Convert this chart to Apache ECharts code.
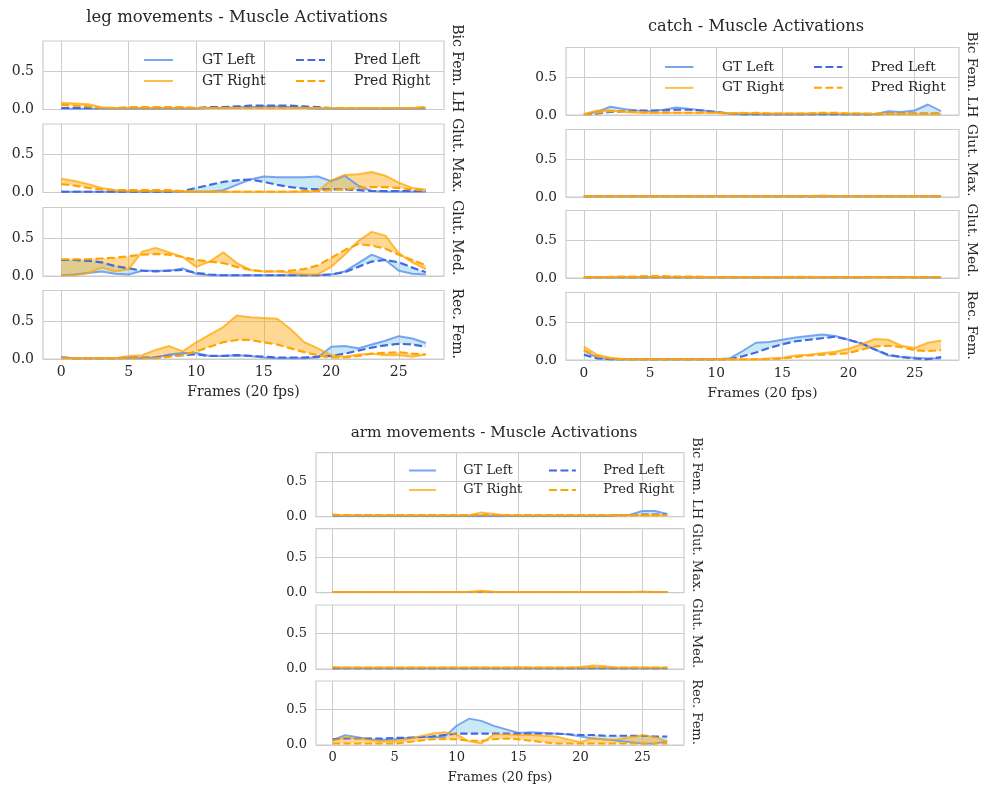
<!DOCTYPE html>
<html>
<head>
<meta charset="utf-8">
<script src="https://cdn.jsdelivr.net/npm/echarts@6/dist/echarts.min.js"></script>
<style>
  html, body { margin: 0; padding: 0; background: #ffffff; }
  #chart { width: 984px; height: 789px; }
</style>
</head>
<body>
<div id="chart"></div>
<script>
// ---- shared axes ----
const frames = [0,1,2,3,4,5,6,7,8,9,10,11,12,13,14,15,16,17,18,19,20,21,22,23,24,25,26,27];
const xTicks = [0, 5, 10, 15, 20, 25];
const yTicks = [0, 0.5];
const muscles = ['Bic Fem. LH', 'Glut. Max.', 'Glut. Med.', 'Rec. Fem.'];
const panelTitles = ['leg movements - Muscle Activations', 'catch - Muscle Activations', 'arm movements - Muscle Activations'];
const xName = 'Frames (20 fps)';

// ---- leg movements ----
const legBicGtL   = [0.01,0.01,0.01,0.01,0.01,0.01,0.01,0.01,0.01,0.01,0.01,0.02,0.02,0.03,0.03,0.04,0.04,0.03,0.02,0.01,0.01,0.01,0.01,0.01,0.01,0.01,0.01,0.01];
const legBicPredL = [0.02,0.02,0.02,0.02,0.02,0.02,0.02,0.02,0.02,0.02,0.02,0.03,0.03,0.04,0.05,0.05,0.05,0.05,0.04,0.03,0.02,0.02,0.02,0.02,0.02,0.02,0.02,0.02];
const legBicGtR   = [0.09,0.08,0.07,0.03,0.02,0.02,0.02,0.02,0.02,0.02,0.02,0.02,0.02,0.02,0.02,0.02,0.02,0.02,0.02,0.02,0.02,0.02,0.02,0.02,0.02,0.02,0.02,0.03];
const legBicPredR = [0.06,0.05,0.04,0.02,0.02,0.03,0.03,0.03,0.03,0.03,0.02,0.02,0.02,0.02,0.02,0.02,0.02,0.02,0.02,0.02,0.02,0.02,0.02,0.02,0.02,0.02,0.02,0.03];

const legMaxGtL   = [0.01,0.01,0.01,0.01,0.01,0.01,0.01,0.01,0.01,0.01,0.01,0.01,0.03,0.10,0.17,0.21,0.20,0.20,0.20,0.21,0.15,0.22,0.09,0.02,0.01,0.01,0.01,0.01];
const legMaxPredL = [0.01,0.01,0.01,0.01,0.01,0.01,0.01,0.01,0.01,0.02,0.06,0.10,0.14,0.16,0.17,0.14,0.10,0.07,0.05,0.04,0.04,0.04,0.03,0.02,0.02,0.02,0.02,0.02];
const legMaxGtR   = [0.18,0.15,0.11,0.06,0.03,0.02,0.02,0.02,0.02,0.01,0.01,0.01,0.01,0.01,0.01,0.01,0.01,0.01,0.01,0.02,0.16,0.23,0.24,0.27,0.22,0.13,0.06,0.04];
const legMaxPredR = [0.11,0.09,0.06,0.04,0.03,0.03,0.03,0.03,0.03,0.02,0.01,0.01,0.01,0.01,0.01,0.01,0.01,0.01,0.02,0.02,0.03,0.04,0.06,0.07,0.07,0.06,0.04,0.03];

const legMedGtL   = [0.01,0.02,0.04,0.06,0.03,0.02,0.07,0.07,0.07,0.10,0.03,0.01,0.01,0.01,0.01,0.01,0.01,0.01,0.01,0.01,0.02,0.06,0.17,0.28,0.21,0.07,0.03,0.02];
const legMedPredL = [0.21,0.21,0.20,0.18,0.13,0.10,0.07,0.06,0.07,0.08,0.04,0.02,0.01,0.01,0.01,0.01,0.01,0.01,0.01,0.01,0.02,0.05,0.12,0.19,0.21,0.18,0.11,0.05];
const legMedGtR   = [0.01,0.01,0.04,0.11,0.06,0.09,0.32,0.37,0.31,0.25,0.12,0.19,0.31,0.17,0.08,0.06,0.06,0.04,0.02,0.02,0.12,0.28,0.46,0.58,0.53,0.30,0.18,0.09];
const legMedPredR = [0.22,0.22,0.22,0.23,0.24,0.26,0.28,0.29,0.28,0.25,0.21,0.19,0.17,0.12,0.08,0.06,0.06,0.07,0.09,0.14,0.24,0.34,0.42,0.40,0.36,0.28,0.21,0.14];

const legRecGtL   = [0.02,0.01,0.01,0.01,0.01,0.01,0.01,0.02,0.06,0.08,0.08,0.04,0.04,0.05,0.04,0.02,0.01,0.01,0.01,0.02,0.16,0.17,0.14,0.19,0.24,0.30,0.27,0.21];
const legRecPredL = [0.02,0.01,0.01,0.01,0.01,0.02,0.02,0.02,0.04,0.05,0.06,0.04,0.04,0.05,0.04,0.03,0.02,0.02,0.02,0.03,0.04,0.07,0.11,0.15,0.18,0.20,0.19,0.16];
const legRecGtR   = [0.01,0.01,0.01,0.01,0.01,0.04,0.05,0.12,0.17,0.10,0.22,0.32,0.42,0.57,0.55,0.54,0.53,0.39,0.22,0.14,0.05,0.03,0.06,0.07,0.05,0.05,0.03,0.06];
const legRecPredR = [0.01,0.01,0.01,0.01,0.01,0.01,0.01,0.01,0.03,0.05,0.10,0.16,0.22,0.25,0.25,0.22,0.19,0.14,0.09,0.05,0.02,0.02,0.04,0.07,0.08,0.09,0.07,0.06];

// ---- catch ----
const catchBicGtL   = [0.01,0.04,0.11,0.08,0.06,0.05,0.07,0.10,0.08,0.06,0.04,0.02,0.01,0.01,0.01,0.01,0.01,0.01,0.01,0.01,0.01,0.01,0.01,0.05,0.04,0.06,0.14,0.05];
const catchBicPredL = [0.01,0.02,0.04,0.05,0.06,0.06,0.06,0.07,0.07,0.06,0.04,0.02,0.01,0.01,0.01,0.01,0.01,0.01,0.01,0.01,0.01,0.01,0.01,0.02,0.02,0.02,0.02,0.02];
const catchBicGtR   = [0.01,0.06,0.06,0.04,0.03,0.03,0.03,0.03,0.03,0.03,0.03,0.02,0.03,0.02,0.02,0.02,0.02,0.02,0.02,0.02,0.02,0.02,0.01,0.01,0.01,0.01,0.01,0.01];
const catchBicPredR = [0.01,0.03,0.05,0.05,0.04,0.03,0.03,0.03,0.03,0.03,0.03,0.02,0.02,0.03,0.02,0.02,0.02,0.02,0.03,0.03,0.02,0.02,0.02,0.02,0.02,0.02,0.02,0.02];

const catchMaxGtL   = [0.01,0.01,0.01,0.01,0.01,0.01,0.01,0.01,0.01,0.01,0.01,0.01,0.01,0.01,0.01,0.01,0.01,0.01,0.01,0.01,0.01,0.01,0.01,0.01,0.01,0.01,0.01,0.01];
const catchMaxPredL = [0.01,0.01,0.01,0.01,0.01,0.01,0.01,0.01,0.01,0.01,0.01,0.01,0.01,0.01,0.01,0.01,0.01,0.01,0.01,0.01,0.01,0.01,0.01,0.01,0.01,0.01,0.01,0.01];
const catchMaxGtR   = [0.01,0.01,0.01,0.01,0.01,0.01,0.01,0.01,0.01,0.01,0.01,0.01,0.01,0.01,0.01,0.01,0.01,0.015,0.02,0.015,0.01,0.01,0.01,0.01,0.01,0.01,0.01,0.01];
const catchMaxPredR = [0.01,0.01,0.01,0.01,0.01,0.01,0.01,0.01,0.01,0.01,0.01,0.01,0.01,0.01,0.01,0.01,0.01,0.01,0.01,0.01,0.01,0.01,0.01,0.01,0.01,0.01,0.01,0.01];

const catchMedGtL   = [0.01,0.01,0.01,0.01,0.01,0.01,0.01,0.01,0.01,0.01,0.01,0.01,0.01,0.01,0.01,0.01,0.01,0.01,0.01,0.01,0.01,0.01,0.015,0.015,0.015,0.01,0.01,0.01];
const catchMedPredL = [0.01,0.01,0.01,0.01,0.01,0.01,0.01,0.01,0.01,0.01,0.01,0.01,0.01,0.01,0.01,0.01,0.01,0.01,0.01,0.01,0.01,0.01,0.01,0.01,0.01,0.01,0.01,0.01];
const catchMedGtR   = [0.01,0.01,0.01,0.01,0.01,0.01,0.01,0.01,0.01,0.01,0.01,0.01,0.01,0.01,0.01,0.01,0.01,0.01,0.01,0.01,0.01,0.01,0.01,0.01,0.01,0.01,0.01,0.01];
const catchMedPredR = [0.01,0.01,0.015,0.02,0.02,0.025,0.025,0.02,0.02,0.015,0.01,0.01,0.01,0.01,0.01,0.01,0.015,0.015,0.01,0.01,0.01,0.01,0.01,0.01,0.01,0.01,0.01,0.01];

const catchRecGtL   = [0.13,0.03,0.01,0.01,0.01,0.01,0.01,0.01,0.01,0.01,0.01,0.02,0.12,0.23,0.24,0.27,0.30,0.32,0.34,0.32,0.27,0.22,0.14,0.06,0.04,0.03,0.02,0.02];
const catchRecPredL = [0.07,0.02,0.01,0.01,0.01,0.01,0.01,0.01,0.01,0.01,0.01,0.01,0.05,0.10,0.16,0.21,0.25,0.27,0.29,0.31,0.27,0.22,0.14,0.07,0.04,0.02,0.01,0.04];
const catchRecGtR   = [0.18,0.07,0.03,0.01,0.01,0.01,0.01,0.01,0.01,0.01,0.01,0.01,0.01,0.01,0.02,0.03,0.06,0.07,0.09,0.11,0.15,0.21,0.28,0.27,0.19,0.16,0.23,0.26];
const catchRecPredR = [0.13,0.05,0.02,0.01,0.01,0.01,0.01,0.01,0.01,0.01,0.01,0.01,0.01,0.01,0.01,0.02,0.04,0.06,0.07,0.08,0.09,0.14,0.18,0.19,0.17,0.13,0.12,0.13];

// ---- arm movements ----
const armBicGtL   = [0.01,0.01,0.01,0.01,0.01,0.01,0.01,0.01,0.01,0.01,0.01,0.01,0.01,0.01,0.01,0.01,0.01,0.01,0.01,0.01,0.01,0.01,0.01,0.02,0.03,0.08,0.08,0.04];
const armBicPredL = [0.02,0.02,0.02,0.02,0.02,0.02,0.02,0.02,0.02,0.02,0.02,0.02,0.02,0.02,0.02,0.02,0.02,0.02,0.02,0.02,0.02,0.02,0.02,0.02,0.02,0.03,0.03,0.03];
const armBicGtR   = [0.02,0.02,0.02,0.02,0.02,0.02,0.02,0.02,0.02,0.02,0.02,0.02,0.06,0.04,0.02,0.02,0.02,0.02,0.02,0.02,0.02,0.02,0.02,0.02,0.02,0.02,0.02,0.02];
const armBicPredR = [0.03,0.02,0.02,0.02,0.02,0.02,0.02,0.02,0.02,0.02,0.02,0.02,0.02,0.02,0.02,0.02,0.02,0.02,0.02,0.02,0.02,0.02,0.02,0.02,0.02,0.02,0.02,0.02];

const armMaxGtL   = [0.01,0.01,0.01,0.01,0.01,0.01,0.01,0.01,0.01,0.01,0.01,0.01,0.01,0.01,0.01,0.01,0.01,0.01,0.01,0.01,0.01,0.01,0.01,0.01,0.01,0.015,0.01,0.01];
const armMaxPredL = [0.01,0.01,0.01,0.01,0.01,0.01,0.01,0.01,0.01,0.01,0.01,0.01,0.01,0.01,0.01,0.01,0.01,0.01,0.01,0.01,0.01,0.01,0.01,0.01,0.01,0.01,0.01,0.01];
const armMaxGtR   = [0.01,0.01,0.01,0.01,0.01,0.01,0.01,0.01,0.01,0.01,0.01,0.015,0.03,0.015,0.01,0.01,0.01,0.01,0.01,0.01,0.01,0.01,0.01,0.01,0.01,0.01,0.01,0.01];
const armMaxPredR = [0.01,0.01,0.01,0.01,0.01,0.01,0.01,0.01,0.01,0.01,0.01,0.01,0.01,0.01,0.01,0.01,0.01,0.01,0.01,0.01,0.01,0.01,0.01,0.01,0.01,0.01,0.01,0.01];

const armMedGtL   = [0.01,0.01,0.01,0.01,0.01,0.01,0.01,0.01,0.01,0.01,0.01,0.01,0.01,0.01,0.01,0.01,0.01,0.01,0.01,0.01,0.01,0.01,0.01,0.01,0.01,0.01,0.01,0.01];
const armMedPredL = [0.01,0.01,0.01,0.01,0.01,0.01,0.01,0.01,0.01,0.01,0.01,0.01,0.01,0.01,0.01,0.01,0.01,0.01,0.01,0.01,0.01,0.01,0.01,0.01,0.01,0.01,0.01,0.01];
const armMedGtR   = [0.03,0.02,0.02,0.02,0.02,0.02,0.02,0.02,0.02,0.02,0.02,0.02,0.02,0.02,0.02,0.025,0.02,0.02,0.02,0.02,0.03,0.05,0.04,0.02,0.02,0.02,0.02,0.02];
const armMedPredR = [0.02,0.02,0.02,0.02,0.02,0.02,0.02,0.02,0.02,0.02,0.02,0.02,0.02,0.02,0.02,0.02,0.02,0.02,0.02,0.02,0.02,0.02,0.02,0.02,0.02,0.02,0.02,0.02];

const armRecGtL   = [0.07,0.14,0.11,0.08,0.07,0.08,0.10,0.11,0.11,0.11,0.27,0.37,0.34,0.27,0.22,0.17,0.18,0.17,0.16,0.15,0.12,0.09,0.08,0.06,0.04,0.02,0.02,0.05];
const armRecPredL = [0.08,0.09,0.09,0.09,0.09,0.10,0.10,0.11,0.12,0.14,0.16,0.16,0.16,0.16,0.16,0.16,0.16,0.16,0.16,0.15,0.14,0.14,0.13,0.13,0.13,0.13,0.12,0.12];
const armRecGtR   = [0.06,0.11,0.09,0.07,0.05,0.06,0.08,0.12,0.16,0.18,0.15,0.05,0.02,0.15,0.15,0.14,0.14,0.13,0.12,0.08,0.04,0.10,0.07,0.08,0.11,0.14,0.11,0.05];
const armRecPredR = [0.02,0.02,0.02,0.02,0.02,0.02,0.04,0.06,0.08,0.08,0.08,0.06,0.06,0.08,0.09,0.08,0.06,0.04,0.02,0.02,0.02,0.02,0.02,0.02,0.02,0.02,0.02,0.02];

// ---- per-panel series grouping: [gtLeft, predLeft, gtRight, predRight] per muscle ----
const panelData = [
  [[legBicGtL, legBicPredL, legBicGtR, legBicPredR],
   [legMaxGtL, legMaxPredL, legMaxGtR, legMaxPredR],
   [legMedGtL, legMedPredL, legMedGtR, legMedPredR],
   [legRecGtL, legRecPredL, legRecGtR, legRecPredR]],
  [[catchBicGtL, catchBicPredL, catchBicGtR, catchBicPredR],
   [catchMaxGtL, catchMaxPredL, catchMaxGtR, catchMaxPredR],
   [catchMedGtL, catchMedPredL, catchMedGtR, catchMedPredR],
   [catchRecGtL, catchRecPredL, catchRecGtR, catchRecPredR]],
  [[armBicGtL, armBicPredL, armBicGtR, armBicPredR],
   [armMaxGtL, armMaxPredL, armMaxGtR, armMaxPredR],
   [armMedGtL, armMedPredL, armMedGtR, armMedPredR],
   [armRecGtL, armRecPredL, armRecGtR, armRecPredR]]
];

// ---- layout of the three figure blocks ----
const layout = [
  { left: 43,  width: 401, bottoms: [109.5, 192.5, 276, 359],   height: 68.5, s: 1.0,
    titleX: 237, titleY: 18,  sideX: 457, legX: [143, 295], legY: 53 },
  { left: 566, width: 393, bottoms: [115, 197, 278, 360],       height: 67.5, s: 0.98,
    titleX: 756, titleY: 27,  sideX: 972, legX: [664, 813], legY: 60 },
  { left: 316, width: 368, bottoms: [516.7, 592.7, 669, 745],   height: 64,   s: 0.93,
    titleX: 494, titleY: 433, sideX: 696, legX: [408, 548], legY: 464 }
];
// vertical shift of each side label relative to its subplot centre
const sideShift = [-7, -3, -4, -1];

const FONT = '"DejaVu Serif", "Liberation Serif", serif';
const INK = '#262626';
const GRIDC = '#cccccc';
const C = {
  gtL: 'rgba(100,149,237,0.85)',
  predL: '#4169E1',
  bandL: 'rgba(135,206,235,0.45)',
  gtR: 'rgba(255,165,0,0.72)',
  predR: '#FFA500',
  bandR: 'rgba(255,165,0,0.42)'
};

function lineSeries(name, g, values, color, dashed, w) {
  return {
    type: 'line', name: name, xAxisIndex: g, yAxisIndex: g,
    data: frames.map((f, i) => [f, values[i]]),
    symbol: 'none', showSymbol: false, silent: true,
    lineStyle: { color: color, width: w, type: dashed ? [3.6 * w, 1.6 * w] : 'solid', cap: 'butt' },
    itemStyle: { color: color },
    animation: false
  };
}

// filled region between ground truth and prediction, one polygon per pair
function bandSeries(name, g, gt, pred, color) {
  return {
    type: 'custom', name: name, xAxisIndex: g, yAxisIndex: g, silent: true,
    data: frames.map((f, i) => [f, gt[i], pred[i]]),
    encode: { x: 0, y: [1, 2] },
    animation: false,
    renderItem: function (params, api) {
      if (params.dataIndex !== 0) return null;
      const upper = frames.map((f, i) => api.coord([f, gt[i]]));
      const lower = frames.map((f, i) => api.coord([f, pred[i]])).reverse();
      return { type: 'polygon', shape: { points: upper.concat(lower) }, style: { fill: color, stroke: null } };
    }
  };
}

const grids = [], xAxes = [], yAxes = [], series = [], legends = [], graphics = [];

layout.forEach((L, p) => {
  const fs = Math.round(14 * L.s * 10) / 10;
  const lw = 2 * L.s;
  panelData[p].forEach((muscle, m) => {
    const g = grids.length;
    const isLast = m === muscles.length - 1;
    grids.push({
      left: L.left, top: L.bottoms[m] - L.height, width: L.width, height: L.height,
      show: true, borderColor: GRIDC, borderWidth: 1.2, backgroundColor: '#ffffff'
    });
    xAxes.push({
      type: 'value', gridIndex: g, min: -1.35, max: 28.35,
      axisLine: { show: false },
      axisTick: { show: false, customValues: xTicks },
      axisLabel: { show: isLast, customValues: xTicks, margin: 6, color: INK, fontFamily: FONT, fontSize: fs },
      splitLine: { show: true, lineStyle: { color: GRIDC, width: 1 } },
      name: isLast ? xName : '', nameLocation: 'middle', nameGap: 26,
      nameTextStyle: { color: INK, fontFamily: FONT, fontSize: fs }
    });
    yAxes.push({
      type: 'value', gridIndex: g, min: 0, max: 0.9,
      axisLine: { show: false },
      axisTick: { show: false, customValues: yTicks },
      axisLabel: { customValues: yTicks, margin: 9, color: INK, fontFamily: FONT, fontSize: fs,
                   formatter: v => v.toFixed(1) },
      splitLine: { show: true, lineStyle: { color: GRIDC, width: 1 } }
    });
    const [gtL, predL, gtR, predR] = muscle;
    series.push(lineSeries('GT Left', g, gtL, C.gtL, false, lw));
    series.push(lineSeries('Pred Left', g, predL, C.predL, true, lw * 1.1));
    series.push(bandSeries('Left difference', g, gtL, predL, C.bandL));
    series.push(lineSeries('GT Right', g, gtR, C.gtR, false, lw));
    series.push(lineSeries('Pred Right', g, predR, C.predR, true, lw * 1.1));
    series.push(bandSeries('Right difference', g, gtR, predR, C.bandR));

    // muscle name on the right side of each subplot, reading downwards
    graphics.push({
      type: 'text', x: L.sideX, y: L.bottoms[m] - L.height / 2 + sideShift[m] * L.s,
      rotation: -Math.PI / 2, silent: true,
      style: { text: muscles[m], fill: INK, font: fs + 'px ' + FONT,
               textAlign: 'center', align: 'center', textVerticalAlign: 'middle', verticalAlign: 'middle' }
    });
  });

  graphics.push({
    type: 'text', x: L.titleX, y: L.titleY, silent: true,
    style: { text: panelTitles[p], fill: INK, font: (16.5 * L.s).toFixed(1) + 'px ' + FONT,
             textAlign: 'center', align: 'center', textVerticalAlign: 'middle', verticalAlign: 'middle' }
  });

  const legendCols = [['GT Left', 'GT Right'], ['Pred Left', 'Pred Right']];
  legendCols.forEach((names, c) => {
    legends.push({
      show: true, orient: 'vertical', left: L.legX[c], top: L.legY, padding: 0,
      itemWidth: 29 * L.s, itemHeight: 14 * L.s, itemGap: 7 * L.s,
      selectedMode: false, data: names,
      itemStyle: { opacity: 0 },
      textStyle: { color: INK, fontFamily: FONT, fontSize: fs, padding: [0, 0, 0, 24 * L.s] }
    });
  });
});

const chart = echarts.init(document.getElementById('chart'), null, { renderer: 'canvas' });
chart.setOption({
  backgroundColor: '#ffffff',
  animation: false,
  grid: grids,
  xAxis: xAxes,
  yAxis: yAxes,
  legend: legends,
  series: series,
  graphic: { elements: graphics }
});
</script>
</body>
</html>
